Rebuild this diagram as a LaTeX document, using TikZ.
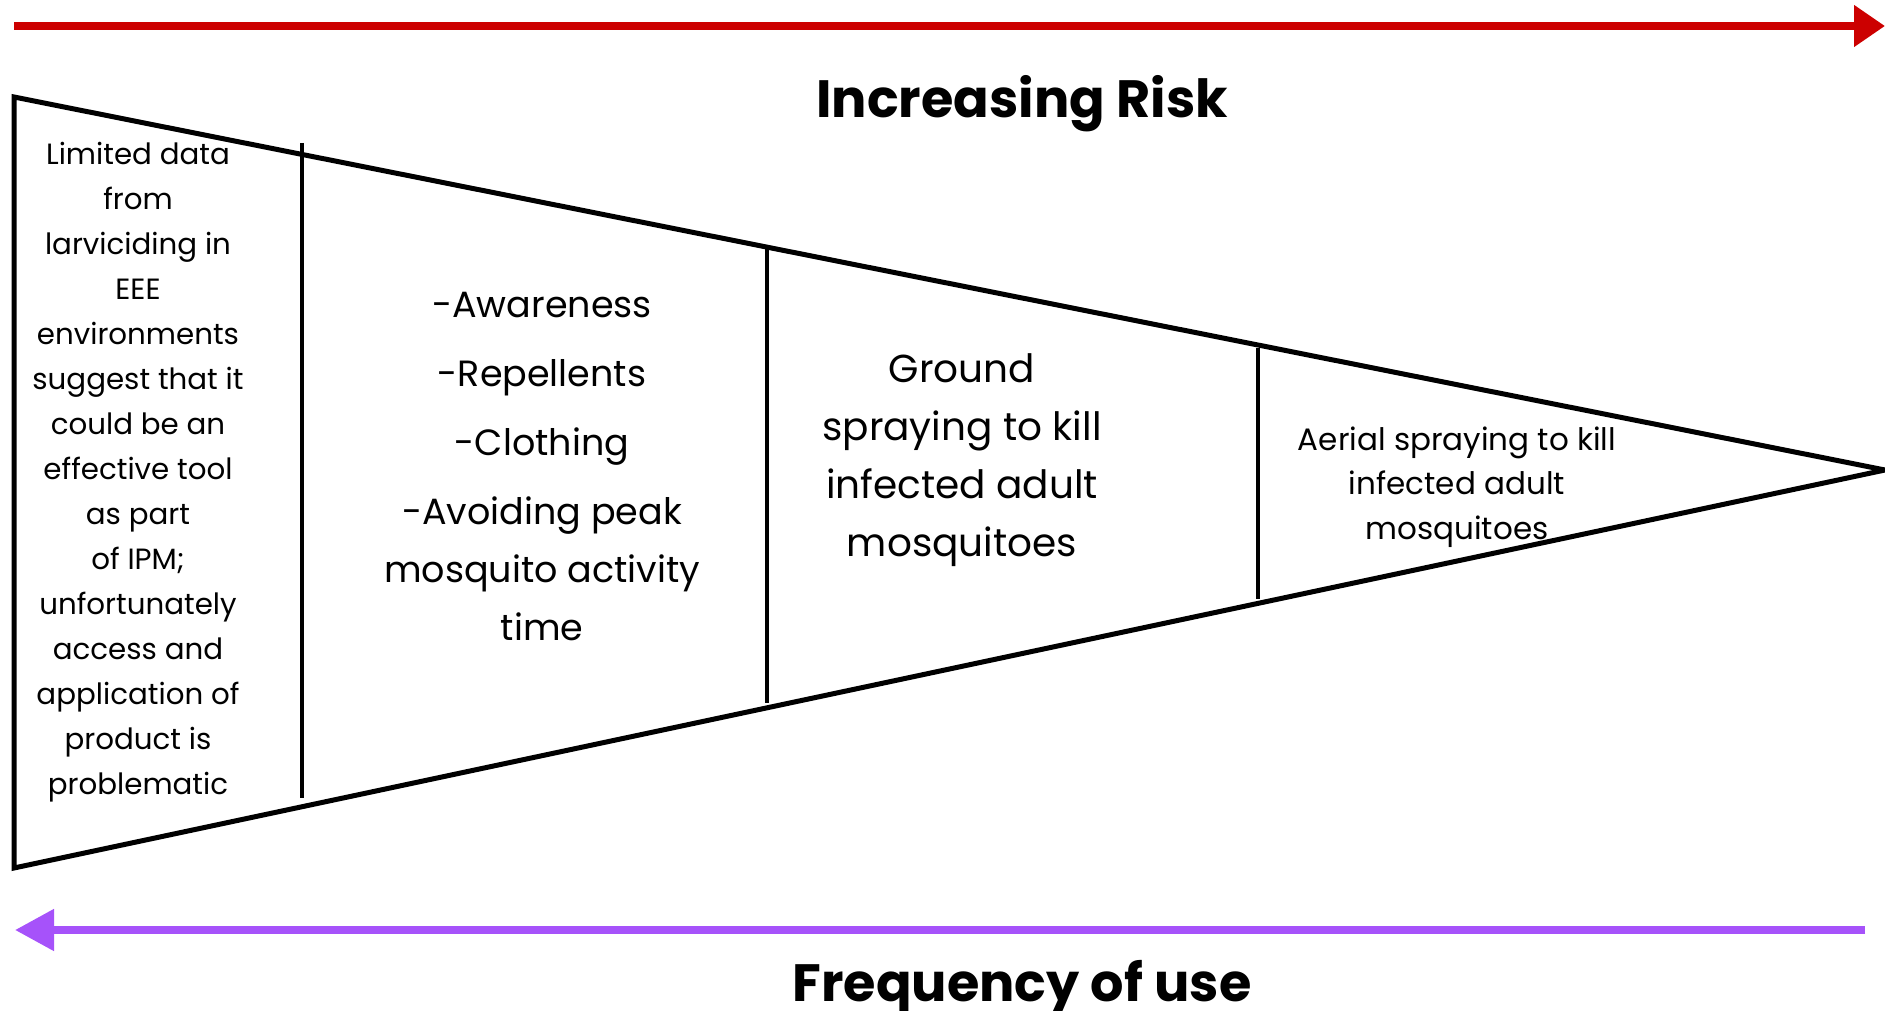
\documentclass[tikz,border=0pt]{standalone}
\usepackage{fontspec}
\setmainfont{Poppins}
\usetikzlibrary{arrows.meta}
\definecolor{riskred}{RGB}{204,0,0}
\definecolor{usepurple}{RGB}{166,82,250}
\begin{document}
\begin{tikzpicture}[x=1pt,y=-1pt,
  outline/.style={line width=5pt,line join=miter},
  divider/.style={line width=4.5pt},
  title/.style={font=\fontsize{52.5}{60}\selectfont\bfseries,inner sep=0pt},
  small/.style={align=center,inner sep=0pt,font=\fontsize{29.3}{45}\selectfont},
  big/.style={align=center,inner sep=0pt,font=\fontsize{36.5}{58}\selectfont},
  bigger/.style={align=center,inner sep=0pt,font=\fontsize{39}{58}\selectfont},
  mid/.style={align=center,inner sep=0pt,font=\fontsize{31}{44.5}\selectfont}]
\useasboundingbox (0,0) rectangle (1885,1011);
% arrows
\coordinate (rs) at (14,26);
\coordinate (re) at (1885,26);
\draw[riskred,line width=8pt,-{Triangle[length=31pt,width=40pt]}] (rs) -- (re);
\coordinate (ps) at (1865,930);
\coordinate (pe) at (15,930);
\draw[usepurple,line width=8pt,-{Triangle[length=39pt,width=40pt]}] (ps) -- (pe);
% funnel
\coordinate (tl) at (14,97);
\coordinate (tip) at (1885,470);
\coordinate (bl) at (14,868);
\draw[outline] (tl) -- (tip) -- (bl) -- cycle;
% dividers
\coordinate (d1t) at (302,143);
\coordinate (d1b) at (302,798);
\coordinate (d2t) at (767,245);
\coordinate (d2b) at (767,703);
\coordinate (d3t) at (1258,348);
\coordinate (d3b) at (1258,599);
\draw[divider] (d1t) -- (d1b);
\draw[divider] (d2t) -- (d2b);
\draw[divider] (d3t) -- (d3b);
% titles
\node[title,anchor=base] (risk) at (1022,118) {Increasing Risk};
\node[title,anchor=base] (freq) at (1022,1001) {Frequency of use};
% texts
\node[small] (c1) at (138,472) {Limited data\\from\\larviciding in\\EEE\\environments\\suggest that it\\could be an\\effective tool\\as part\\of IPM;\\unfortunately\\access and\\application of\\product is\\problematic};
\node[big] (c2) at (542,467) {-Awareness\\[11pt]-Repellents\\[11pt]-Clothing\\[11pt]-Avoiding peak\\mosquito activity\\time};
\node[bigger] (c3) at (962,460) {Ground\\spraying to kill\\infected adult\\mosquitoes};
\node[mid] (c4) at (1457,487) {Aerial spraying to kill\\infected adult\\mosquitoes};
\end{tikzpicture}
\end{document}
